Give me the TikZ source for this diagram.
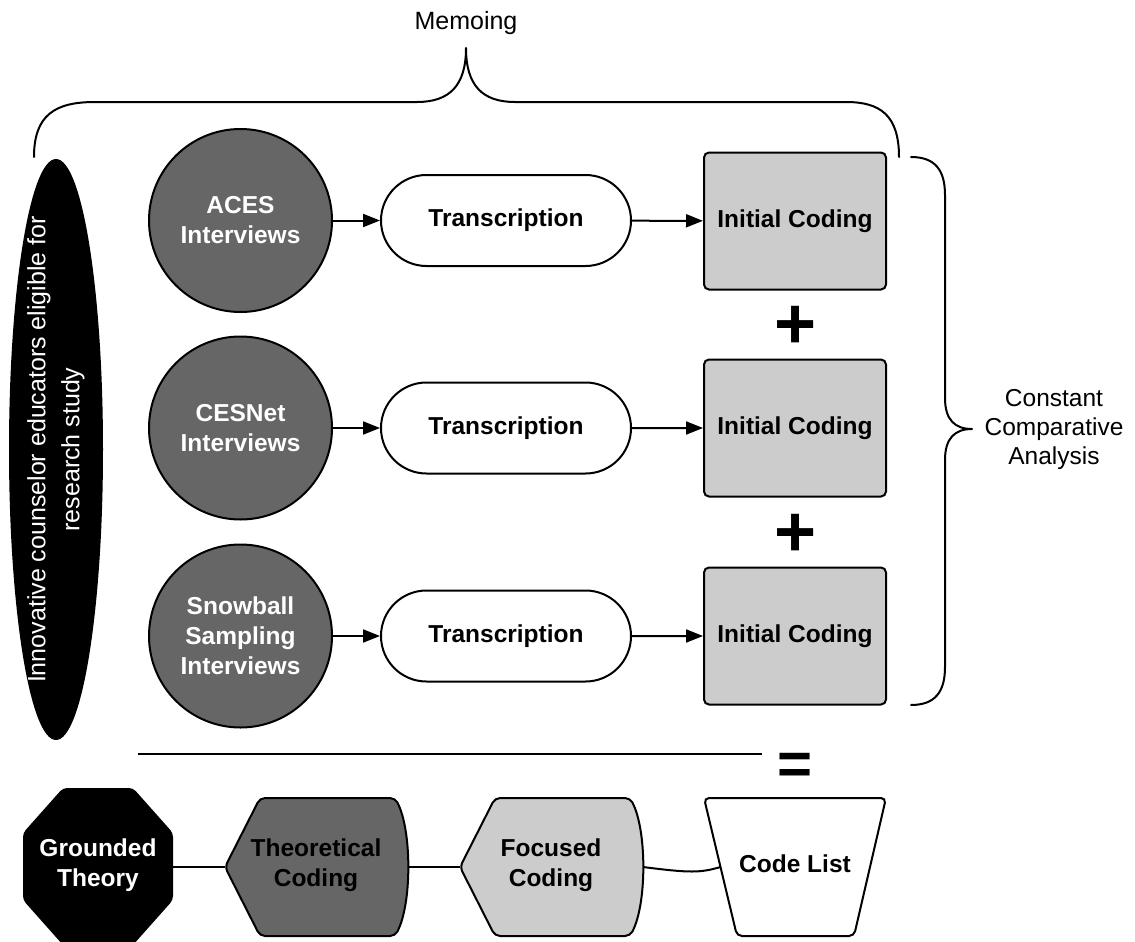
\documentclass[tikz,border=0pt]{standalone}
\usepackage{fontspec}
\setmainfont{Liberation Sans}
\usetikzlibrary{arrows.meta,shapes.geometric,shapes.misc}

\definecolor{darkfill}{HTML}{666666}
\definecolor{lightfill}{HTML}{CCCCCC}

\newcommand\cclabel{\fontsize{24.5}{30}\selectfont\bfseries}
\newcommand\ccplain{\fontsize{25}{33}\selectfont}
\newcommand\ccsign{\fontsize{72}{72}\selectfont\bfseries}
\newcommand\cceq{\fontsize{60}{60}\selectfont\bfseries}

\tikzset{
  outline/.style={draw=black, line width=2pt},
  src/.style={outline, circle, fill=darkfill, minimum size=183pt, inner sep=0pt,
    text=white, font=\cclabel, align=center},
  transc/.style={outline, rounded rectangle, fill=white, minimum width=250pt,
    minimum height=91pt, inner sep=0pt, font=\cclabel},
  codebox/.style={outline, rectangle, rounded corners=5pt, fill=lightfill,
    minimum width=182pt, minimum height=137pt, inner sep=0pt, font=\cclabel},
  flow/.style={line width=2pt, -{Triangle[length=17pt,width=13pt]}},
  link/.style={line width=2pt},
  brace/.style={line width=2pt, line join=round, line cap=round},
  plain/.style={font=\ccplain, align=center, inner sep=0pt},
  boldtext/.style={font=\cclabel, align=center, inner sep=0pt},
  sign/.style={font=\ccsign, inner sep=0pt},
}

\begin{document}
\begin{tikzpicture}[x=1pt, y=-1pt]
\useasboundingbox (0,0) rectangle (1135,942);

% --- memoing brace over the whole process ---
\node[plain, anchor=base] (memo) at (466,30) {Memoing};
\draw[brace] (34,157) .. controls (34,115) and (55,102) .. (95,102)
  -- (417,102) .. controls (450,102) and (466,85) .. (466,48)
  .. controls (466,85) and (482,102) .. (515,102)
  -- (846,102) .. controls (880,102) and (899,115) .. (899,157);

% --- participant pool ---
\node[fill=black, ellipse, minimum width=581pt, minimum height=94pt, inner sep=0pt,
  rotate=90] (pool) at (56,449.5) {};
\node[plain, text=white, rotate=90, font={\fontsize{25}{34}\selectfont}] (poolText)
  at (pool.center) {Innovative counselor educators eligible for\\research study};

% --- three interview streams ---
\node[src] (aces)   at (240.5,220.5) {ACES\\Interviews};
\node[src] (cesnet) at (240.5,428)   {CESNet\\Interviews};
\node[src] (snow)   at (240.5,636)   {Snowball\\Sampling\\Interviews};

\node[transc] (t1) at (506,220.5) {Transcription};
\node[transc] (t2) at (506,428)   {Transcription};
\node[transc] (t3) at (506,636)   {Transcription};

\node[codebox] (c1) at (795,221) {Initial Coding};
\node[codebox] (c2) at (795,428) {Initial Coding};
\node[codebox] (c3) at (795,636) {Initial Coding};

\draw[flow] (aces)   -- (t1);
\draw[flow] (cesnet) -- (t2);
\draw[flow] (snow)   -- (t3);
\draw[flow] (t1) -- (c1);
\draw[flow] (t2) -- (c2);
\draw[flow] (t3) -- (c3);

\node[sign] (plus1) at (795.5,327.5) {+};
\node[sign] (plus2) at (795.5,535) {+};

% --- constant comparative analysis brace ---
\draw[brace] (911,157) .. controls (935,157) and (945,170) .. (945,195)
  -- (945,398) .. controls (945,420) and (955,429) .. (972,429)
  .. controls (955,429) and (945,438) .. (945,460)
  -- (945,667) .. controls (945,692) and (935,705) .. (911,705);
\node[plain, font={\fontsize{24.5}{29}\selectfont}] (cca) at (1054,429)
  {Constant\\Comparative\\Analysis};

% --- sum line ---
\coordinate (sumL) at (138,754);
\coordinate (sumR) at (762,754);
\draw[link] (sumL) -- (sumR);
\node[sign, font=\cceq] (eq) at (795,769) {=};

% --- coding outcome chain ---
\fill[black, rounded corners=4pt] (63,788) -- (133,788) -- (173,833) -- (173,900)
  -- (133,945) -- (63,945) -- (23,900) -- (23,833) -- cycle;
\node[boldtext, text=white] (gt) at (98,865) {Grounded\\Theory};
\coordinate (gt-e) at (173,867);

\draw[outline, fill=darkfill, rounded corners=5pt] (225,867) -- (260,798) -- (395,798)
  .. controls (412,830) and (412,904) .. (395,936) -- (260,936) -- cycle;
\node[boldtext] (tc) at (316,865) {Theoretical\\Coding};
\coordinate (tc-w) at (225,867);
\coordinate (tc-e) at (408,867);

\draw[outline, fill=lightfill, rounded corners=5pt] (460,867) -- (495,798) -- (630,798)
  .. controls (647,830) and (647,904) .. (630,936) -- (495,936) -- cycle;
\node[boldtext] (fc) at (551,865) {Focused\\Coding};
\coordinate (fc-w) at (460,867);
\coordinate (fc-e) at (643,867);

\draw[outline, fill=white, rounded corners=5pt] (704,798) -- (886,798) -- (854,936)
  -- (737,936) -- cycle;
\node[boldtext] (cl) at (795,864) {Code List};
\coordinate (cl-w) at (720.5,867);

\draw[link] (gt-e) -- (tc-w);
\draw[link] (tc-e) -- (fc-w);
\draw[link] (fc-e) .. controls (690,873) and (700,873) .. (cl-w);
\end{tikzpicture}
\end{document}
